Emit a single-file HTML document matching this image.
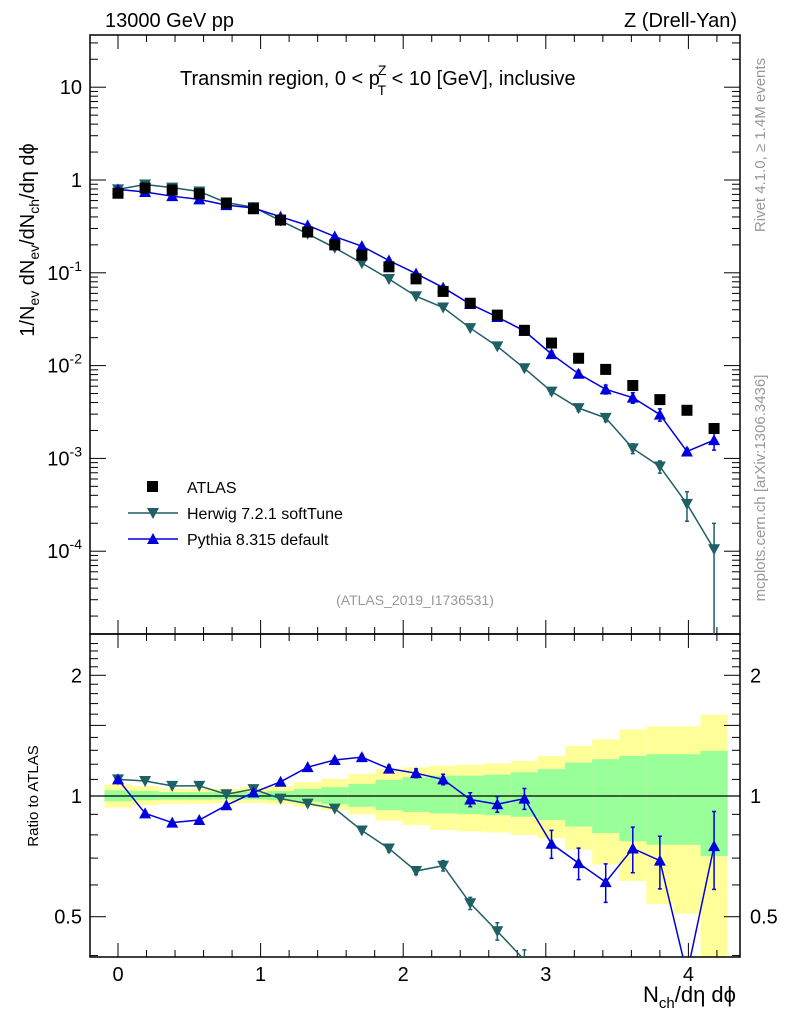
<!DOCTYPE html>
<html><head><meta charset="utf-8"><style>
html,body{margin:0;background:#fff;overflow:hidden;width:786px;height:1024px}
svg{display:block;font-family:"Liberation Sans",sans-serif}
</style></head><body>
<svg id="c" width="786" height="1024" viewBox="0 0 786 1024">
<defs><clipPath id="rclip"><rect x="90" y="634" width="650" height="323"/></clipPath>
<clipPath id="mclip"><rect x="90" y="35" width="650" height="599"/></clipPath></defs>
<g id="bands"></g>
<g id="frames"></g>
<g id="series" clip-path="url(#mclip)"></g>
<g id="rseries" clip-path="url(#rclip)"></g>
<text x="105" y="27" font-size="20">13000 GeV pp</text>
<text x="737" y="27" font-size="20" text-anchor="end">Z (Drell-Yan)</text>
<text x="180" y="85" font-size="20">Transmin region, 0 &lt; p<tspan font-size="14" dx="-2" dy="-10">Z</tspan><tspan font-size="14" dx="-9" dy="20">T</tspan><tspan dy="-10"> &lt; 10 [GeV], inclusive</tspan></text>
<text x="415" y="605" font-size="14" fill="#999" text-anchor="middle">(ATLAS_2019_I1736531)</text>
<text transform="translate(765,145) rotate(-90)" font-size="15" fill="#999" text-anchor="middle">Rivet 4.1.0, ≥ 1.4M events</text>
<text transform="translate(765,488) rotate(-90)" font-size="15" fill="#999" text-anchor="middle">mcplots.cern.ch [arXiv:1306.3436]</text>
<text transform="translate(34,240) rotate(-90)" font-size="20" text-anchor="middle">1/N<tspan font-size="14" dy="5">ev</tspan><tspan dy="-5"> dN</tspan><tspan font-size="14" dy="5">ev</tspan><tspan dy="-5">/dN</tspan><tspan font-size="14" dy="5">ch</tspan><tspan dy="-5">/dη dϕ</tspan></text>
<text transform="translate(38,796) rotate(-90)" font-size="15" text-anchor="middle">Ratio to ATLAS</text>
<text x="736" y="1002" font-size="22" text-anchor="end">N<tspan font-size="15" dy="6">ch</tspan><tspan dy="-6">/dη dϕ</tspan></text>
<g>
<rect x="147" y="481" width="11" height="11" fill="#000"/>
<text x="187" y="493" font-size="16">ATLAS</text>
<line x1="128" y1="513" x2="178" y2="513" stroke="#1f5f66" stroke-width="1.5"/>
<path d="M147,508 L159,508 L153,519 Z" fill="#1f5f66"/>
<text x="187" y="519" font-size="16">Herwig 7.2.1 softTune</text>
<line x1="128" y1="539" x2="178" y2="539" stroke="#0000dd" stroke-width="1.5"/>
<path d="M147,544 L159,544 L153,533 Z" fill="#0000dd"/>
<text x="187" y="545" font-size="16">Pythia 8.315 default</text>
</g>
</svg>
<script>
const xVals=[0,0.19,0.38,0.57,0.76,0.95,1.14,1.33,1.52,1.71,1.90,2.09,2.28,2.47,2.66,2.85,3.04,3.23,3.42,3.61,3.80,3.99,4.18];
const atlas=[0.72,0.82,0.78,0.71,0.565,0.49,0.37,0.275,0.20,0.155,0.116,0.086,0.063,0.047,0.035,0.024,0.0175,0.0120,0.0091,0.0061,0.0043,0.0033,0.0021];
const pythiaRatio=[1.10,0.905,0.858,0.871,0.948,1.02,1.085,1.18,1.23,1.25,1.17,1.14,1.10,0.98,0.954,0.985,0.76,0.68,0.61,0.74,0.69,0.36,0.75];
const pythiaErr=[0.01,0.01,0.01,0.01,0.01,0.01,0.01,0.01,0.01,0.015,0.02,0.025,0.03,0.04,0.045,0.06,0.08,0.09,0.11,0.13,0.15,0.08,0.22];
const herwigRatio=[1.10,1.09,1.06,1.06,1.01,1.04,0.985,0.957,0.93,0.82,0.74,0.65,0.67,0.54,0.46,0.39,0.30,0.29,0.30,0.21,0.19,0.098,0.05];
const herwigErr=[0.01,0.01,0.01,0.01,0.01,0.01,0.01,0.01,0.01,0.01,0.02,0.02,0.03,0.035,0.05,0.06,0.07,0.08,0.09,0.12,0.15,0.35,0.9];
const yellowHi=[1.068,1.058,1.042,1.042,1.042,1.052,1.058,1.083,1.103,1.135,1.167,1.179,1.19,1.196,1.206,1.224,1.259,1.332,1.384,1.465,1.492,1.492,1.594];
const yellowLo=[0.936,0.949,0.957,0.957,0.961,0.961,0.954,0.940,0.922,0.900,0.868,0.847,0.823,0.816,0.811,0.800,0.785,0.735,0.675,0.614,0.538,0.509,0.30];
const greenHi=[1.033,1.029,1.023,1.023,1.023,1.023,1.029,1.042,1.052,1.072,1.097,1.114,1.124,1.124,1.131,1.146,1.167,1.212,1.235,1.259,1.271,1.271,1.296];
const greenLo=[0.970,0.976,0.979,0.979,0.981,0.981,0.976,0.967,0.954,0.940,0.922,0.913,0.905,0.901,0.896,0.888,0.871,0.839,0.808,0.771,0.756,0.756,0.708];
const xTicks=[0,1,2,3,4];
const mainTicks=[-4,-3,-2,-1,0,1];
const ratioLabels=[0.5,1,2];

const NS='http://www.w3.org/2000/svg';
const L=90,R=740,T1=35,B1=634,T2=634,B2=957;
const sx=v=>118+v*142.6;
const sy=v=>180-Math.log10(v)*92.8;
const sr=v=>796-Math.log10(v)*401;
function mk(par,tag,at){const e=document.createElementNS(NS,tag);for(const k in at)e.setAttribute(k,at[k]);document.getElementById(par).appendChild(e);return e;}
const clampR=y=>Math.max(T2,Math.min(B2,y));

for(let i=0;i<xVals.length;i++){
  const x0=sx(xVals[i]-0.095),x1=sx(xVals[i]+0.095);
  let y0=clampR(sr(yellowHi[i])),y1=clampR(sr(yellowLo[i]));
  let e=mk('bands','rect',{x:x0,y:y0,width:x1-x0,height:y1-y0,fill:'#ffff99'});
  
  
  y0=sr(greenHi[i]);y1=sr(greenLo[i]);
  e=mk('bands','rect',{x:x0,y:y0,width:x1-x0,height:y1-y0,fill:'#99ff99'});
  
  
}
let f=mk('frames','rect',{x:L,y:T1,width:R-L,height:B1-T1,fill:'none',stroke:'#000','stroke-width':1.5});


f=mk('frames','rect',{x:L,y:T2,width:R-L,height:B2-T2,fill:'none',stroke:'#000','stroke-width':1.5});


f=mk('frames','line',{x1:L,x2:R,y1:sr(1),y2:sr(1),stroke:'#000','stroke-width':1.2});


function tk(x1,y1,x2,y2){mk('frames','line',{x1,y1,x2,y2,stroke:'#000','stroke-width':1});}
for(let v=-0.2;v<=4.31;v+=0.2){
  const x=sx(v),maj=Math.abs(v-Math.round(v))<0.01,len=maj?14:7;
  if(x<L||x>R)continue;
  tk(x,T1,x,T1+len);tk(x,B1,x,B1-len);tk(x,T2,x,T2+len);tk(x,B2,x,B2-len);
}
for(const t of xTicks){const e=mk('frames','text',{x:sx(t),y:981,'font-size':20,'text-anchor':'middle'});e.textContent=String(t);

}
for(let d=-5;d<=1;d++){for(let m=1;m<10;m++){const y=sy(m*Math.pow(10,d));if(y<T1||y>B1)continue;const len=m==1?16:8;tk(L,y,L+len,y);tk(R,y,R-len,y);}}
for(const p of mainTicks){const e=mk('frames','text',{x:82,y:sy(Math.pow(10,p))+7,'font-size':20,'text-anchor':'end'});
if(p===0)e.textContent='1';else if(p===1)e.textContent='10';else{e.textContent='10';const s=document.createElementNS(NS,'tspan');s.setAttribute('font-size','14');s.setAttribute('dy','-9');s.textContent=p;e.appendChild(s);}

}
for(let v=0.4;v<=2.5;v+=0.1){const y=sr(v);if(y<T2||y>B2)continue;const maj=[0.5,1,1.5,2].some(q=>Math.abs(q-v)<0.01);const len=maj?16:8;tk(L,y,L+len,y);tk(R,y,R-len,y);}
for(const r of ratioLabels){for(const side of [0,1]){const e=mk('frames','text',{x:side?750:82,y:sr(r)+7,'font-size':20,'text-anchor':side?'start':'end'});e.textContent=r;

}}

function series(par,vals,errs,col,down,yf,lo,hi,prefix){
  const pts=[];
  for(let i=0;i<xVals.length;i++){pts.push([sx(xVals[i]),yf(vals[i])]);}
  const path=mk(par,'path',{d:'M'+pts.map(p=>p.join(',')).join('L'),fill:'none',stroke:col,'stroke-width':1.5});
  
  
  for(let i=0;i<xVals.length;i++){
    const x=pts[i][0],y=pts[i][1];
    const ya=yf(vals[i]*(1+errs[i])),yb=Math.min(hi+10,yf(Math.max(vals[i]*(1-errs[i]),1e-9)));
    if(yb-ya>4){const l=mk(par,'path',{d:`M${x},${ya}L${x},${yb}M${x-2},${ya}L${x+2},${ya}M${x-2},${yb}L${x+2},${yb}`,stroke:col,'stroke-width':1.5,fill:'none'});
    
    }
    if(y>hi||y<lo)continue;
    const d=down?`M${x-6},${y-5}L${x+6},${y-5}L${x},${y+6}Z`:`M${x-6},${y+5}L${x+6},${y+5}L${x},${y-6}Z`;
    const m=mk(par,'path',{d,fill:col});
    
    
  }
}
const herwigMain=atlas.map((a,i)=>a*herwigRatio[i]);
const pythiaMain=atlas.map((a,i)=>a*pythiaRatio[i]);
series('series',herwigMain,herwigErr,'#1f5f66',true,sy,T1,B1,'herwig-main');
series('series',pythiaMain,pythiaErr,'#0000dd',false,sy,T1,B1,'pythia-main');
for(let i=0;i<xVals.length;i++){
  const m=mk('series','rect',{x:sx(xVals[i])-5.5,y:sy(atlas[i])-5.5,width:11,height:11,fill:'#000'});
  
  
}
series('rseries',herwigRatio,herwigErr,'#1f5f66',true,sr,T2,B2,'herwig-ratio');
series('rseries',pythiaRatio,pythiaErr,'#0000dd',false,sr,T2,B2,'pythia-ratio');
</script>
</body></html>
